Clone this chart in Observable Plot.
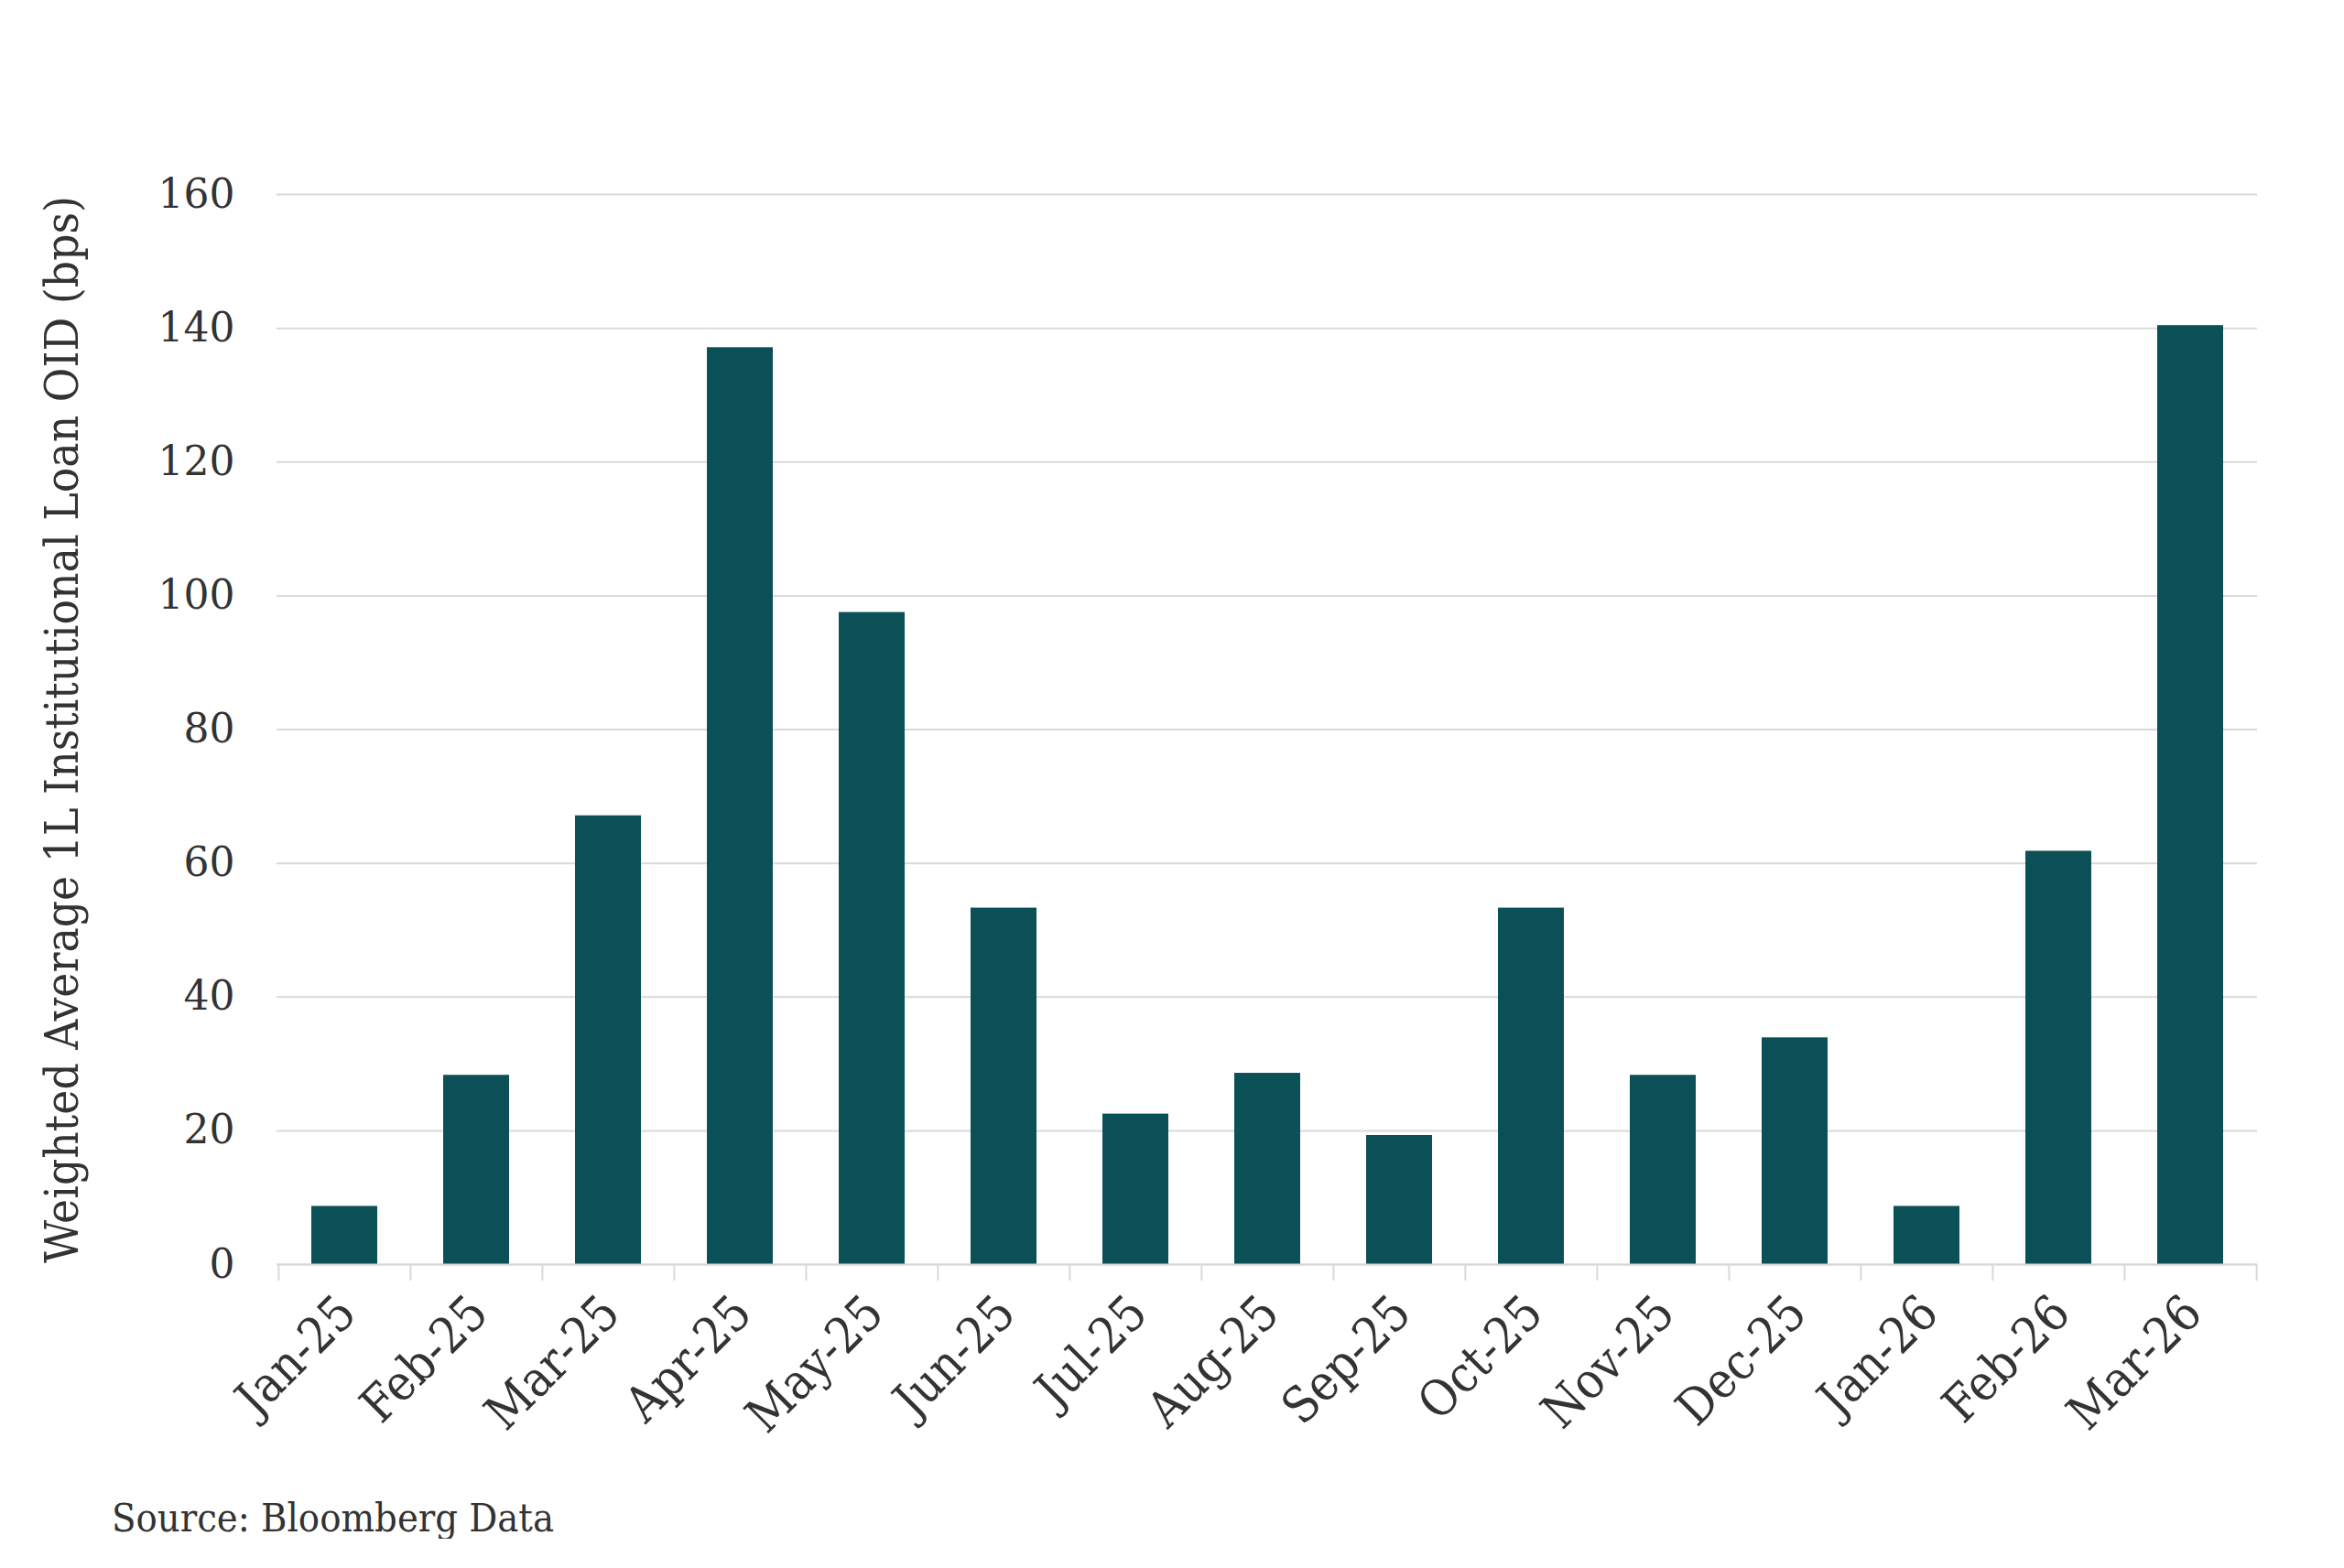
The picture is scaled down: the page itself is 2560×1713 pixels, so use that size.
<!DOCTYPE html>
<html>
<head>
<meta charset="utf-8">
<script src="https://cdn.jsdelivr.net/npm/d3@7"></script>
<script src="https://cdn.jsdelivr.net/npm/@observablehq/plot@0.6"></script>
<style>
  html, body { margin: 0; padding: 0; background: #fff; }
  #chart svg { display: block; }
  #caption {
    font-family: "DejaVu Serif Condensed", "DejaVu Serif", serif;
    font-size: 43px;
    line-height: 45px;
    color: #333;
    margin-left: 122px;
    margin-top: 36px;
  }
</style>
</head>
<body>
<div id="chart"></div>
<div id="caption">Source: Bloomberg Data</div>
<script>
const months = ["Jan-25","Feb-25","Mar-25","Apr-25","May-25","Jun-25","Jul-25","Aug-25","Sep-25","Oct-25","Nov-25","Dec-25","Jan-26","Feb-26","Mar-26"];
const values = [8.7, 28.3, 67.1, 137.1, 97.5, 53.3, 22.5, 28.6, 19.3, 53.3, 28.3, 33.9, 8.7, 61.8, 140.4];
const yTicks = [0, 20, 40, 60, 80, 100, 120, 140, 160];
const yLabel = "Weighted Average 1L Institutional Loan OID (bps)";

const data = months.map((m, i) => ({month: m, value: values[i]}));

const W = 2560, H = 1600;
const mL = 302, mR = 95, mT = 212, mB = H - 1381;
const step = (W - mL - mR) / months.length;
const cond = "'DejaVu Serif Condensed', 'DejaVu Serif', serif";
const normal = "'DejaVu Serif', serif";
const grid = "#d9d9d9";
const ink = "#333";

const chart = Plot.plot({
  width: W, height: H,
  marginLeft: mL, marginRight: mR, marginTop: mT, marginBottom: mB,
  style: {fontFamily: cond, color: ink, background: "#fff"},
  x: {domain: months, paddingInner: 0.5, paddingOuter: 0.25, align: 0.5, label: null},
  y: {domain: [0, 160], label: null},
  marks: [
    Plot.gridY(yTicks, {stroke: grid, strokeOpacity: 1, strokeWidth: 2}),
    Plot.barY(data, {x: "month", y: "value", fill: "#0a5056"}),
    Plot.ruleY([0], {stroke: grid, strokeWidth: 2}),
    Plot.axisX(months, {tickSize: 18, dx: -step / 2, tickFormat: () => "", stroke: grid, strokeWidth: 2, label: null}),
    Plot.axisX([months[months.length - 1]], {tickSize: 18, dx: step / 2, tickFormat: () => "", stroke: grid, strokeWidth: 2, label: null}),
    Plot.axisX({tickSize: 0, tickRotate: -45, tickPadding: 44, dx: 3, fontSize: 54, fill: ink, label: null}),
    Plot.axisY(yTicks, {tickSize: 0, tickPadding: 46, fontSize: 44, fontFamily: normal, fill: ink, label: null}),
    Plot.text([yLabel], {frameAnchor: "left", rotate: -90, dx: 84 - mL, textAnchor: "middle", lineAnchor: "bottom", fontSize: 51, fill: ink})
  ]
});
document.getElementById("chart").append(chart);
</script>
</body>
</html>
